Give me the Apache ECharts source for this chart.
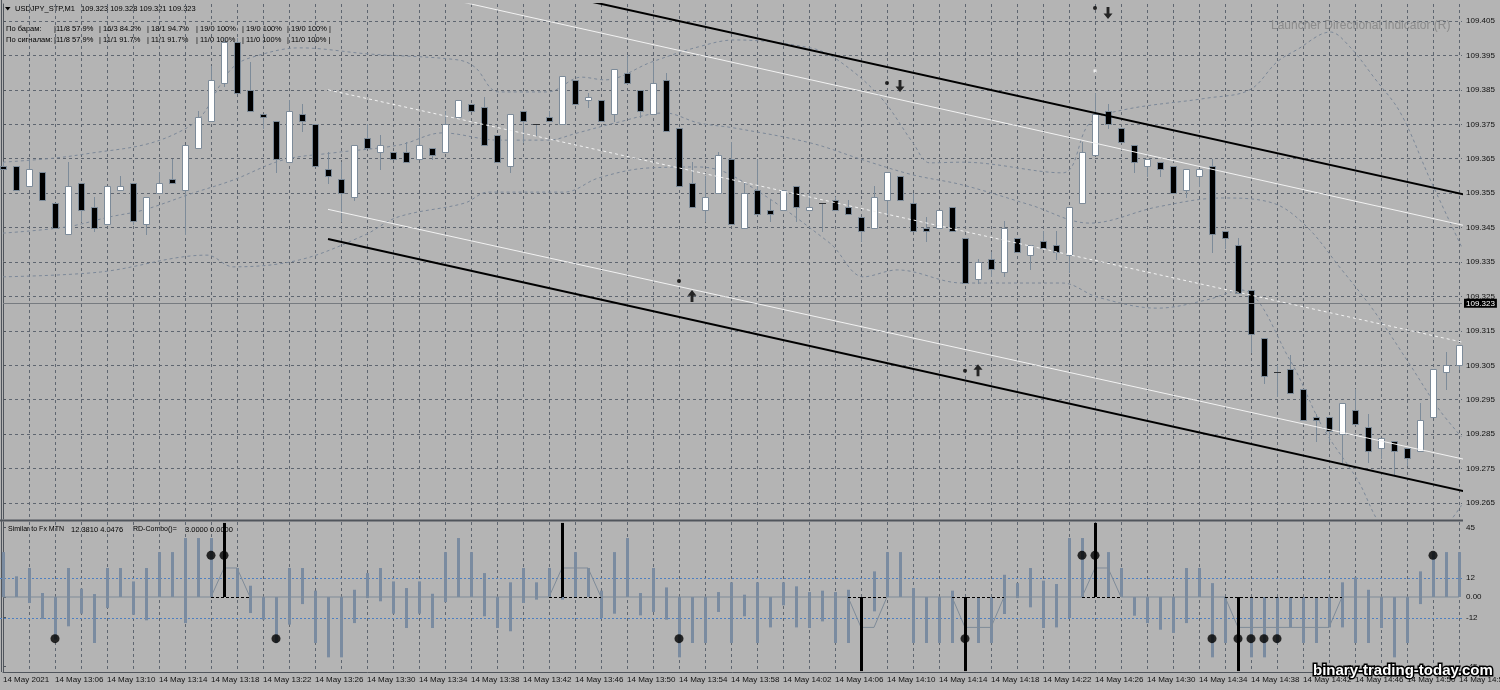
<!DOCTYPE html>
<html><head><meta charset="utf-8">
<script src="https://cdn.jsdelivr.net/npm/echarts@6/dist/echarts.min.js"></script>
<style>html,body{margin:0;padding:0;background:#b4b4b4;}#c{width:1500px;height:690px;}</style>
</head><body><div id="c"></div>
<script>
// ---------- DATA ----------
const openP = [109.363,109.363,109.357,109.361,109.352,109.343,109.358,109.351,109.346,109.356,
109.358,109.346,109.355,109.359,109.356,109.368,109.376,109.387,109.399,109.385,
109.378,109.376,109.364,109.378,109.375,109.362,109.359,109.354,109.371,109.367,
109.367,109.367,109.365,109.368,109.367,109.377,109.381,109.380,109.372,109.363,
109.379,109.375,109.377,109.375,109.388,109.382,109.382,109.378,109.390,109.385,
109.378,109.388,109.374,109.358,109.350,109.355,109.365,109.345,109.356,109.350,
109.350,109.357,109.350,109.352,109.353,109.351,109.348,109.345,109.353,109.360,
109.352,109.345,109.345,109.351,109.342,109.330,109.336,109.332,109.342,109.337,
109.341,109.340,109.337,109.352,109.366,109.379,109.374,109.369,109.363,109.364,
109.363,109.356,109.360,109.363,109.344,109.340,109.327,109.313,109.303,109.304,
109.298,109.290,109.290,109.285,109.292,109.287,109.281,109.283,109.281,109.280,
109.290,109.303,109.305];
const closeP = [109.362,109.356,109.362,109.353,109.345,109.357,109.350,109.345,109.357,109.357,
109.347,109.354,109.358,109.358,109.369,109.377,109.388,109.399,109.384,109.379,
109.377,109.365,109.379,109.376,109.363,109.360,109.355,109.369,109.368,109.369,
109.365,109.364,109.369,109.366,109.375,109.382,109.379,109.369,109.364,109.378,
109.376,109.375,109.376,109.389,109.381,109.383,109.376,109.391,109.387,109.379,
109.387,109.373,109.357,109.351,109.354,109.366,109.346,109.355,109.349,109.349,
109.356,109.351,109.351,109.352,109.350,109.349,109.344,109.354,109.361,109.353,
109.344,109.344,109.350,109.344,109.329,109.335,109.333,109.345,109.338,109.340,
109.339,109.338,109.351,109.367,109.378,109.375,109.370,109.364,109.365,109.362,
109.355,109.362,109.362,109.343,109.342,109.326,109.314,109.302,109.303,109.297,
109.289,109.289,109.286,109.294,109.288,109.280,109.284,109.280,109.278,109.289,
109.304,109.305,109.311];
const highP = [109.364,109.363,109.365,109.361,109.352,109.364,109.358,109.354,109.357,109.360,
109.358,109.354,109.361,109.365,109.369,109.379,109.392,109.400,109.400,109.393,
109.378,109.376,109.382,109.381,109.375,109.367,109.364,109.369,109.375,109.372,
109.367,109.370,109.374,109.368,109.379,109.382,109.381,109.383,109.372,109.378,
109.379,109.375,109.379,109.389,109.388,109.384,109.382,109.391,109.395,109.385,
109.393,109.390,109.374,109.364,109.360,109.367,109.370,109.358,109.365,109.353,
109.356,109.357,109.355,109.352,109.354,109.353,109.348,109.357,109.361,109.360,
109.355,109.348,109.350,109.351,109.342,109.336,109.338,109.347,109.342,109.340,
109.344,109.344,109.351,109.370,109.384,109.381,109.374,109.369,109.365,109.364,
109.363,109.362,109.362,109.365,109.344,109.342,109.327,109.313,109.305,109.308,
109.298,109.291,109.290,109.294,109.298,109.291,109.284,109.283,109.281,109.294,
109.304,109.309,109.311];
const lowP = [109.362,109.356,109.357,109.353,109.345,109.343,109.347,109.344,109.346,109.356,
109.346,109.343,109.355,109.358,109.343,109.368,109.376,109.386,109.384,109.379,
109.374,109.361,109.364,109.373,109.363,109.358,109.347,109.353,109.368,109.362,
109.365,109.364,109.365,109.365,109.367,109.377,109.379,109.369,109.364,109.361,
109.370,109.372,109.376,109.375,109.381,109.380,109.376,109.376,109.387,109.377,
109.378,109.373,109.357,109.351,109.347,109.355,109.346,109.345,109.349,109.347,
109.350,109.347,109.350,109.344,109.350,109.349,109.341,109.345,109.349,109.353,
109.344,109.341,109.345,109.344,109.329,109.329,109.331,109.331,109.338,109.333,
109.339,109.336,109.332,109.352,109.366,109.374,109.370,109.361,109.360,109.360,
109.355,109.354,109.357,109.338,109.339,109.326,109.309,109.300,109.296,109.297,
109.289,109.283,109.283,109.277,109.288,109.277,109.278,109.273,109.276,109.280,
109.290,109.298,109.304];

const priceTicks = [109.265,109.275,109.285,109.295,109.305,109.315,109.325,109.335,109.345,109.355,109.365,109.375,109.385,109.395,109.405];
const timeLabels = ['14 May 2021','14 May 13:06','14 May 13:10','14 May 13:14','14 May 13:18','14 May 13:22','14 May 13:26','14 May 13:30','14 May 13:34','14 May 13:38','14 May 13:42','14 May 13:46','14 May 13:50','14 May 13:54','14 May 13:58','14 May 14:02','14 May 14:06','14 May 14:10','14 May 14:14','14 May 14:18','14 May 14:22','14 May 14:26','14 May 14:30','14 May 14:34','14 May 14:38','14 May 14:42','14 May 14:46','14 May 14:50','14 May 14:54'];
const labelKs = [0,4,8,12,16,20,24,28,32,36,40,44,48,52,56,60,64,68,72,76,80,84,88,92,96,100,104,108,112];
const gridKs = [0,2,4,6,8,10,12,14,16,18,20,22,24,26,28,30,32,34,36,38,40,42,44,46,48,50,52,54,56,58,60,62,64,66,68,70,72,74,76,78,80,82,84,86,88,90,92,94,96,98,100,102,104,106,108,110,112];

// channel end points [bar, price]
const chUpperBlack = [[25,109.4275],[113,109.3541]];
const chUpperWhite = [[25,109.4192],[113,109.3451]];
const chMiddle     = [[25,109.3850],[113,109.3111]];
const chLowerWhite = [[25,109.3503],[113,109.2772]];
const chLowerBlack = [[25,109.3417],[113,109.2679]];

// dotted envelope curves [bar, price]
const bandUpper = [[0,109.3640],[4,109.3652],[6.9,109.3667],[10.8,109.3690],[13.4,109.3725],[15.2,109.3771],[16.7,109.3864],[17.7,109.3916],[19,109.3943],[22.8,109.3972],[28.2,109.3954],[35,109.3937],[36.3,109.3916],[38.1,109.3844],[41.9,109.3844],[44.5,109.3887],[46.3,109.3879],[49.9,109.3931],[53.5,109.3975],[56.3,109.3995],[62.1,109.3972],[64.2,109.3937],[67.5,109.3829],[70,109.3696],[71.3,109.3638],[73.8,109.3640],[81.5,109.3609],[83.6,109.3754],[86.2,109.3792],[92.6,109.3826],[95.9,109.3850],[98,109.3931],[99.5,109.3966],[102.1,109.4018],[103.6,109.3975],[105.5,109.3884],[107.5,109.3783],[109.8,109.3588],[112.2,109.3394]];
const bandMiddle = [[0,109.3434],[4.9,109.3452],[8.2,109.3481],[10.8,109.3501],[14.6,109.3550],[17.7,109.3588],[21.5,109.3646],[25.4,109.3667],[30.5,109.3690],[33.8,109.3725],[38.1,109.3704],[41.9,109.3704],[44.2,109.3725],[47.1,109.3754],[50.9,109.3783],[53.5,109.3754],[56.3,109.3739],[62.1,109.3696],[66.2,109.3646],[70,109.3603],[73.8,109.3574],[79,109.3516],[83.6,109.3463],[88.8,109.3510],[93.8,109.3536],[97.7,109.3521],[100.3,109.3452],[102.8,109.3336],[105.4,109.3211],[108,109.3065],[110.5,109.2920],[112.2,109.2842]];
const bandLower = [[0,109.3307],[7.5,109.3321],[15.7,109.3370],[17.7,109.3336],[22.8,109.3356],[27.8,109.3428],[30.4,109.3481],[35.5,109.3521],[37.3,109.3553],[43.2,109.3553],[45.8,109.3594],[49.6,109.3623],[53.5,109.3626],[56.3,109.3597],[63.6,109.3405],[66.2,109.3307],[68.8,109.3327],[73.8,109.3289],[81.5,109.3289],[84.2,109.3248],[88.8,109.3216],[92.6,109.3240],[95.2,109.3269],[99,109.3065],[101.5,109.2871],[104.2,109.2717],[106.3,109.2572],[109,109.2528],[112.2,109.2644]];

const currentPrice = 109.323;
const arrowsUp = [[53,109.3251],[75,109.3036]];
const arrowsDown = [[69,109.3861],[85,109.4073]];
const signalDots = [[52,109.3295],[74,109.3034],[68,109.3870],[84,109.4088]];
const whiteMarks = [[84,109.3905]];

// oscillator sub-window
const oscHigh = [29.1,13.4,18.8,2.6,0,18.8,5.4,1.9,18.8,18.8, 10.1,18.8,29.1,29.1,38.2,38.2,38.2,29.1,18.8,7.3, 0,0,18.8,18.8,4.1,0,0,4.7,15.5,18.8, 10.1,5.8,10.1,2.1,29.1,38.2,29.1,15.5,0,9.5, 18.8,9.5,18.8,18.8,29.1,18.8,4.1,29.1,38.2,2.6, 18.8,6.2,0,0,0,3.2,9.5,1.5,9.5,0, 9.5,6.9,3.2,4.1,3.2,4.7,0,16.6,29.1,29.1, 5.8,0,0,4.1,0,0,0,14.4,9.0,18.8, 10.6,8.4,38.2,38.2,29.1,29.1,18.8,0,0,0, 0,18.8,18.8,9.0,0,0,0,0,0,0, 0,0,0,9.5,12.7,4.7,0,0,0,16.6, 29.1,29.1,29.1];
const oscLow = [0,0,-3.9,-14.3,-27.6,-19.0,-10.8,-29.8,-7.1,0, -11.5,-15.1,0,0,-16.9,0,0,0,0,-10.4, -14.7,-29.8,-17.9,-4.6,-29.8,-39.1,-39.1,-16.9,-0.7,-2.8, -10.8,-20.1,-10.8,-20.1,-3.3,0,0,-12.5,-20.1,-22.2, -3.9,-1.7,0,-1.7,0,0,-13.6,-10.8,0,-11.9, -9.7,-14.7,-39.1,-29.8,-29.8,-9.7,-29.8,-12.5,-29.8,-19.7, -5.4,-19.7,-20.1,-15.8,-29.8,-29.8,-29.8,-9.3,0,0, -29.8,-29.8,-29.8,-29.8,-29.8,-29.8,-29.8,-11.0,-0.7,-6.7, -20.1,-19.7,-13.6,0,0,0,0,-12.1,-16.9,-21.2, -23.3,-16.9,0,-39.1,-29.8,-39.1,-39.1,-39.1,-29.8,-19.7, -29.8,-29.8,-19.7,-19.7,-29.8,-29.8,-20.1,-39.1,-29.8,-4.6, 0,0,0];
const stepLine = [0,0,0,0,0,0,0,0,0,0, 0,0,0,0,0,0,0,18.8,18.8,0, 0,0,0,0,0,0,0,0,0,0, 0,0,0,0,0,0,0,0,0,0, 0,0,0,18.8,18.8,18.8,0,0,0,0, 0,0,0,0,0,0,0,0,0,0, 0,0,0,0,0,0,-19.7,-19.7,0,0, 0,0,0,0,-19.7,-19.7,-19.7,0,0,0, 0,0,0,0,18.8,18.8,0,0,0,0, 0,0,0,0,0,-19.7,-19.7,-19.7,-19.7,-19.7, -19.7,-19.7,-19.7,0,0,0,0,0,0,0, 0,0,0];
const zeroDashSegs = [[16,19],[42,46],[65,68],[73,77],[83,86],[94,103]];
const signalUpBars = [17,43,84];
const signalDownBars = [66,74,95];
const dotsTopBars = [16,17,83,84,110];
const dotsBottomBars = [4,21,52,74,93,95,96,97,98];
const dotLevel = 27;
const signalReach = 48;
const oscLevelUp = 12.4;
const oscLevelDown = -13.4;
const oscTickValues = [45,12.4,0,-13.4,-45];
const oscTickLabels = ['45','12','0.00','-12','-45'];

// texts
const headerTitle = 'USDJPY_STP,M1';
const headerPrices = '109.323 109.328 109.321 109.323';
const statNames = ['По барам:','По сигналам:'];
const statRow1 = ['|11/8 57.9%','| 16/3 84.2%','| 18/1 94.7%','| 19/0 100%','| 19/0 100%','| 19/0 100% |'];
const statRow2 = ['|11/8 57.9%','| 11/1 91.7%','| 11/1 91.7%','| 11/0 100%','| 11/0 100%','| 11/0 100% |'];
const subTitle = ['Similar to Fx MTN','12.3810 4.0476','RD-Combo()=','3.0000 0.0000'];
const launcherText = 'Launcher Directional Indicator (R)';
const watermark = 'binary-trading-today.com';

// ---------- STYLE ----------
const FONT = '"Liberation Sans", Arial, sans-serif';
const GRIDC = '#5f6670';
const WICK = '#7d8b99';
const HIST = '#7a8ba0';
const LEVELC = '#4f80c0';
const XMAX = 112.23;
const SMALL = '7.5px ' + FONT;

function renderCandle(params, api) {
  const k = api.value(0), o = api.value(1), c = api.value(2), l = api.value(3), h = api.value(4);
  const po = api.coord([k, o]), pc = api.coord([k, c]), pl = api.coord([k, l]), ph = api.coord([k, h]);
  const cx = Math.round(po[0]);
  const xw = cx + 0.5;
  const top = Math.round(Math.min(po[1], pc[1])) + 0.5;
  const bot = Math.round(Math.max(po[1], pc[1])) + 0.5;
  const kids = [{type:'line', shape:{x1:xw, y1:Math.round(ph[1]), x2:xw, y2:Math.round(pl[1]) + 1}, style:{stroke:WICK, lineWidth:1}}];
  if (o === c) {
    kids.push({type:'line', shape:{x1:cx - 3, y1:top, x2:cx + 4, y2:top}, style:{stroke:'#2f3236', lineWidth:1}});
  } else {
    kids.push({type:'rect', shape:{x:cx - 2.5, y:top, width:6, height:Math.max(bot - top, 2)},
      style:{fill: c > o ? '#ffffff' : '#000000', stroke:WICK, lineWidth:1}});
  }
  return {type:'group', children:kids};
}
function renderHist(params, api) {
  const k = api.value(0), hi = api.value(1), lo = api.value(2);
  if (hi === lo) return null;
  const a = api.coord([k, hi]), b = api.coord([k, lo]);
  const x = Math.round(a[0]) + 0.5;
  return {type:'line', shape:{x1:x, y1:a[1], x2:x, y2:b[1]}, style:{stroke:HIST, lineWidth:3}};
}
function renderSignal(params, api) {
  const k = api.value(0), v = api.value(1);
  const a = api.coord([k, 0]), b = api.coord([k, v]);
  const x = Math.round(a[0]) + 0.5;
  return {type:'line', shape:{x1:x, y1:a[1], x2:x, y2:b[1]}, style:{stroke:'#000', lineWidth:3}};
}
function renderZeroDash(params, api) {
  const a = api.coord([api.value(0), 0]), b = api.coord([api.value(1), 0]);
  const y = Math.round(a[1]) + 0.5;
  return {type:'line', shape:{x1:a[0], y1:y, x2:b[0], y2:y}, style:{stroke:'#000', lineWidth:1, lineDash:[3,2]}};
}
function renderLevels(params, api) {
  const up = api.value(1), dn = api.value(2);
  const a = api.coord([0, up]), b = api.coord([XMAX, up]);
  const c = api.coord([0, dn]), d = api.coord([XMAX, dn]);
  const y1 = Math.round(a[1]) + 0.5, y2 = Math.round(c[1]) + 0.5;
  return {type:'group', children:[
    {type:'line', shape:{x1:a[0] - 3, y1:y1, x2:b[0], y2:y1}, style:{stroke:LEVELC, lineWidth:1, lineDash:[2,2]}},
    {type:'line', shape:{x1:c[0] - 3, y1:y2, x2:d[0], y2:y2}, style:{stroke:LEVELC, lineWidth:1, lineDash:[2,2]}}
  ]};
}

const candleData = openP.map((o, i) => [i, o, closeP[i], lowP[i], highP[i]]);
const histData = oscHigh.map((h, i) => [i, h, oscLow[i]]);
const stepData = stepLine.map((v, i) => [i, v]);
const signalData = signalUpBars.map(k => [k, signalReach]).concat(signalDownBars.map(k => [k, -signalReach]));
const dotData = dotsTopBars.map(k => [k, dotLevel]).concat(dotsBottomBars.map(k => [k, -dotLevel]));
const levelData = [[0, oscLevelUp, oscLevelDown]];

const ARROW = 'path://M5,0L10,6L6.6,6L6.6,13L3.4,13L3.4,6L0,6Z';

function bandSeries(data) {
  return {type:'line', xAxisIndex:0, yAxisIndex:0, data:data, smooth:0.35, showSymbol:false, silent:true, z:3,
    lineStyle:{color:'#7c8898', width:1, type:[3,3]}};
}
function chanSeries(data, color, width, dash) {
  return {type:'line', xAxisIndex:0, yAxisIndex:0, data:data, showSymbol:false, silent:true, z:5, clip:true,
    lineStyle:{color:color, width:width, type: dash ? [3,3] : 'solid'}};
}

const graphics = [
  {type:'polygon', shape:{points:[[5,7],[10.5,7],[7.75,10.5]]}, style:{fill:'#000'}},
  {type:'text', x:15, y:8.5, style:{text:headerTitle, font:SMALL, fill:'#000', verticalAlign:'middle'}},
  {type:'text', x:81, y:8.5, style:{text:headerPrices, font:SMALL, fill:'#000', verticalAlign:'middle'}},
  {type:'text', x:1271, y:26, style:{text:launcherText, font:'12px ' + FONT, fill:'#8c8c8c', verticalAlign:'middle'}},
  {type:'text', x:8, y:529.5, style:{text:subTitle[0], font:'7px ' + FONT, fill:'#000', verticalAlign:'middle'}},
  {type:'text', x:71, y:529.5, style:{text:subTitle[1], font:SMALL, fill:'#000', verticalAlign:'middle'}},
  {type:'text', x:133, y:529.5, style:{text:subTitle[2], font:'7px ' + FONT, fill:'#000', verticalAlign:'middle'}},
  {type:'text', x:185, y:529.5, style:{text:subTitle[3], font:SMALL, fill:'#000', verticalAlign:'middle'}},
  {type:'rect', shape:{x:0, y:519.5, width:1463, height:2}, style:{fill:'#50555c'}},
  {type:'rect', shape:{x:1, y:0, width:1, height:672}, style:{fill:'#50555c'}},
  {type:'text', x:1313, y:671, z:100, style:{text:watermark, font:'bold 15px ' + FONT, fill:'#ffffff', stroke:'#000000', lineWidth:3, strokeFirst:true, verticalAlign:'middle'}}
];
const statX = [54, 99, 147, 196, 242, 287];
const statY = [29, 39.5];
statNames.forEach((n, r) => {
  graphics.push({type:'text', x:6, y:statY[r], style:{text:n, font:SMALL, fill:'#000', verticalAlign:'middle'}});
  const row = r === 0 ? statRow1 : statRow2;
  row.forEach((t, i) => graphics.push({type:'text', x:statX[i], y:statY[r], style:{text:t, font:SMALL, fill:'#000', verticalAlign:'middle'}}));
});

const splitStyle = {show:true, lineStyle:{color:GRIDC, width:1, type:[3,3]}};
const option = {
  backgroundColor:'#b4b4b4',
  animation:false,
  textStyle:{fontFamily:FONT},
  grid:[{left:3, right:38, top:4, height:515, containLabel:false, outerBoundsMode:'none'},
        {left:3, right:38, top:522, height:150, containLabel:false, outerBoundsMode:'none'}],
  xAxis:[
    {type:'value', gridIndex:0, min:0, max:XMAX, axisLine:{show:false}, axisTick:{show:false, customValues:gridKs},
      axisLabel:{show:false}, splitLine:splitStyle},
    {type:'value', gridIndex:1, min:0, max:XMAX, axisLine:{show:true, onZero:false, lineStyle:{color:'#50555c'}},
      axisTick:{show:false, customValues:gridKs},
      axisLabel:{customValues:labelKs, align:'left', margin:4, fontSize:8, color:'#111', fontFamily:FONT, hideOverlap:false,
        formatter:(v) => { const i = labelKs.indexOf(Math.round(v)); return i >= 0 ? timeLabels[i] : ''; }},
      splitLine:splitStyle}
  ],
  yAxis:[
    {type:'value', gridIndex:0, position:'right', min:109.26036, max:109.40994,
      axisLine:{show:true, lineStyle:{color:'#50555c'}},
      axisTick:{show:true, customValues:priceTicks, length:3, lineStyle:{color:'#50555c'}},
      axisLabel:{customValues:priceTicks, formatter:(v) => v.toFixed(3), margin:4, fontSize:8, color:'#111', fontFamily:FONT},
      splitLine:splitStyle},
    {type:'value', gridIndex:1, position:'right', min:-48.6, max:48.6,
      axisLine:{show:true, lineStyle:{color:'#50555c'}},
      axisTick:{show:true, customValues:oscTickValues, length:3, lineStyle:{color:'#50555c'}},
      axisLabel:{customValues:oscTickValues, margin:4, fontSize:8, color:'#111', fontFamily:FONT,
        formatter:(v) => { let bi = 0; oscTickValues.forEach((t, i) => { if (Math.abs(t - v) < Math.abs(oscTickValues[bi] - v)) bi = i; }); return oscTickLabels[bi]; }},
      splitLine:{show:false}}
  ],
  series:[
    bandSeries(bandUpper), bandSeries(bandMiddle), bandSeries(bandLower),
    {type:'custom', xAxisIndex:0, yAxisIndex:0, data:candleData, renderItem:renderCandle, z:4, silent:true,
      encode:{x:0, y:[1,2,3,4]}},
    chanSeries(chUpperBlack, '#000000', 2, false),
    chanSeries(chUpperWhite, '#f2f2f2', 1, false),
    chanSeries(chMiddle, '#f2f2f2', 1, true),
    chanSeries(chLowerWhite, '#f2f2f2', 1, false),
    Object.assign(chanSeries(chLowerBlack, '#000000', 2, false), {
      markLine:{silent:true, symbol:'none', precision:3, data:[{yAxis:currentPrice}],
        lineStyle:{color:'#777b80', width:1, type:'solid'},
        label:{show:true, position:'end', formatter:currentPrice.toFixed(3), backgroundColor:'#000', color:'#fff',
          fontSize:8, lineHeight:8, fontFamily:FONT, padding:[1,2,0,2], distance:2}}}),
    {type:'scatter', xAxisIndex:0, yAxisIndex:0, data:arrowsUp, symbol:ARROW, symbolSize:[9,12], itemStyle:{color:'#000'}, z:6, silent:true},
    {type:'scatter', xAxisIndex:0, yAxisIndex:0, data:arrowsDown, symbol:ARROW, symbolSize:[9,12], symbolRotate:180, itemStyle:{color:'#000'}, z:6, silent:true},
    {type:'scatter', xAxisIndex:0, yAxisIndex:0, data:signalDots, symbol:'circle', symbolSize:4, itemStyle:{color:'#000'}, z:6, silent:true},
    {type:'scatter', xAxisIndex:0, yAxisIndex:0, data:whiteMarks, symbol:'rect', symbolSize:3, itemStyle:{color:'#fff'}, z:6, silent:true},
    // sub window
    {type:'custom', xAxisIndex:1, yAxisIndex:1, data:levelData, renderItem:renderLevels, z:2, silent:true, clip:false, encode:{x:0, y:[1,2]}},
    {type:'custom', xAxisIndex:1, yAxisIndex:1, data:histData, renderItem:renderHist, z:3, silent:true, encode:{x:0, y:[1,2]}},
    {type:'line', xAxisIndex:1, yAxisIndex:1, data:stepData, showSymbol:false, silent:true, z:4,
      lineStyle:{color:'#7f8b98', width:1}},
    {type:'custom', xAxisIndex:1, yAxisIndex:1, data:zeroDashSegs, renderItem:renderZeroDash, z:5, silent:true, encode:{x:[0,1]}},
    {type:'custom', xAxisIndex:1, yAxisIndex:1, data:signalData, renderItem:renderSignal, z:6, silent:true, encode:{x:0, y:1}},
    {type:'scatter', xAxisIndex:1, yAxisIndex:1, data:dotData, symbol:'circle', symbolSize:9, itemStyle:{color:'#000'}, z:7, silent:true}
  ],
  graphic:graphics
};
const chart = echarts.init(document.getElementById('c'), null, {renderer:'canvas', width:1500, height:690});
chart.setOption(option);
</script>
</body></html>
